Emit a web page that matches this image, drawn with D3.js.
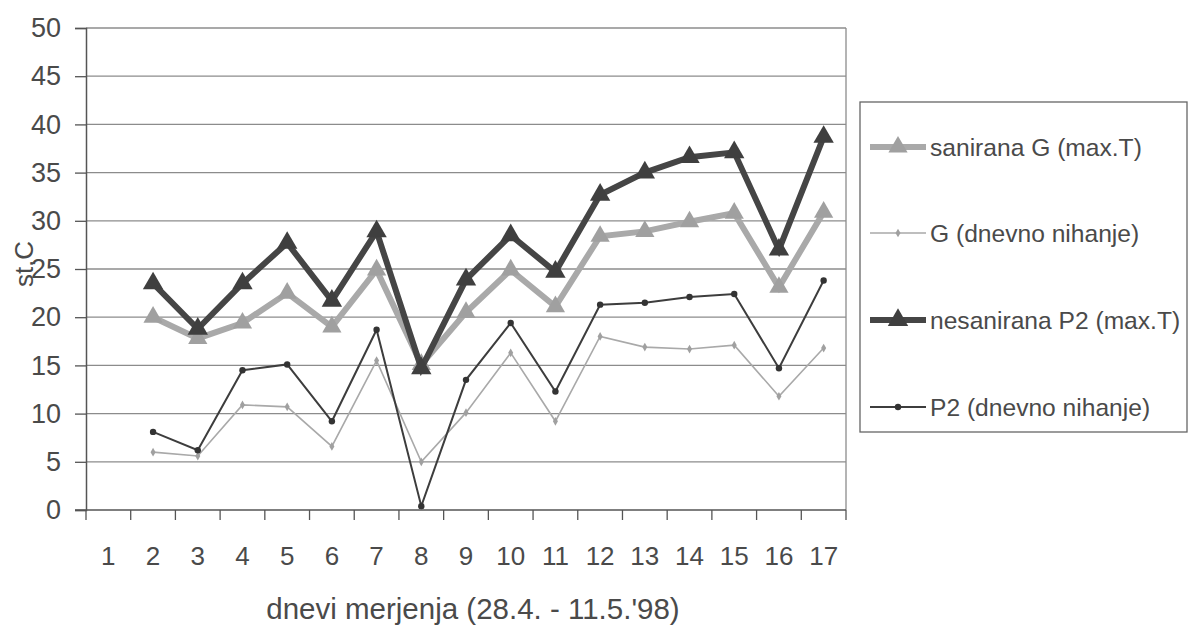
<!DOCTYPE html>
<html>
<head>
<meta charset="utf-8">
<script src="https://cdn.jsdelivr.net/npm/d3@7"></script>
<style>
  html, body { margin: 0; padding: 0; background: #fff; }
  svg { display: block; }
  text { font-family: "Liberation Sans", Arial, sans-serif; fill: #4a4a4a; }
</style>
</head>
<body>
<svg id="chart" width="1190" height="634"></svg>
<script>
// Measurement days (x categories)
const days = ["1","2","3","4","5","6","7","8","9","10","11","12","13","14","15","16","17"];
const yTicks = [0, 5, 10, 15, 20, 25, 30, 35, 40, 45, 50];

// Temperatures (°C); day 1 has no readings
const saniranaMax  = [null, 20.0, 17.8, 19.4, 22.5, 19.0, 24.9, 15.1, 20.5, 24.9, 21.1, 28.4, 28.9, 29.9, 30.8, 23.1, 30.9];
const gDaily       = [null, 6.0, 5.6, 10.9, 10.7, 6.6, 15.5, 5.0, 10.1, 16.3, 9.2, 18.0, 16.9, 16.7, 17.1, 11.8, 16.8];
const nesaniranaMax= [null, 23.5, 18.8, 23.5, 27.7, 21.7, 28.9, 14.7, 23.9, 28.5, 24.7, 32.7, 35.0, 36.6, 37.1, 27.0, 38.7];
const p2Daily      = [null, 8.1, 6.2, 14.5, 15.1, 9.2, 18.7, 0.4, 13.5, 19.4, 12.3, 21.3, 21.5, 22.1, 22.4, 14.7, 23.8];

const seriesNames = ["sanirana G (max.T)", "G (dnevno nihanje)", "nesanirana P2 (max.T)", "P2 (dnevno nihanje)"];

const svg = d3.select("#chart");
const plot = { left: 86, right: 846, top: 28, bottom: 510 };

const x = d3.scaleBand().domain(days).range([plot.left, plot.right]).padding(0);
const y = d3.scaleLinear().domain([0, 50]).range([plot.bottom, plot.top]);
const cx = d => x(d) + x.bandwidth() / 2;

// Horizontal gridlines
svg.append("g").selectAll("line").data(yTicks.filter(t => t > 0)).join("line")
  .attr("x1", plot.left).attr("x2", plot.right)
  .attr("y1", d => y(d)).attr("y2", d => y(d))
  .attr("stroke", "#8c8c8c").attr("stroke-width", 1.3);

// Right border of plot area
svg.append("line").attr("x1", plot.right).attr("x2", plot.right)
  .attr("y1", plot.top).attr("y2", plot.bottom)
  .attr("stroke", "#8c8c8c").attr("stroke-width", 1.3);

// Y axis
const yAxis = svg.append("g").attr("transform", `translate(${plot.left},0)`)
  .call(d3.axisLeft(y).tickValues(yTicks).tickSize(11).tickPadding(14));
yAxis.select(".domain").attr("stroke", "#555").attr("stroke-width", 1.5);
yAxis.selectAll(".tick line").attr("stroke", "#555").attr("stroke-width", 1.3);
yAxis.selectAll(".tick text").attr("font-size", 27).attr("font-family", null).style("fill", "#4a4a4a");

// X axis with ticks on category boundaries
const xAxisG = svg.append("g").attr("transform", `translate(0,${plot.bottom})`);
xAxisG.append("line").attr("x1", plot.left - 11).attr("x2", plot.right)
  .attr("stroke", "#555").attr("stroke-width", 1.5);
const bounds = days.map(d => x(d)).concat([plot.right]);
xAxisG.selectAll("line.tk").data(bounds).join("line").attr("class", "tk")
  .attr("x1", d => d).attr("x2", d => d).attr("y1", 0).attr("y2", 10)
  .attr("stroke", "#555").attr("stroke-width", 1.3);
xAxisG.selectAll("text").data(days).join("text")
  .attr("x", d => cx(d)).attr("y", 55)
  .attr("text-anchor", "middle").attr("font-size", 26).text(d => d);

// Axis titles
svg.append("text").attr("x", 473).attr("y", 619).attr("text-anchor", "middle")
  .attr("font-size", 29.5).text("dnevi merjenja (28.4. - 11.5.'98)");
svg.append("text").attr("transform", "translate(33,264) rotate(-90)")
  .attr("text-anchor", "middle").attr("font-size", 26).text("st.C");

const line = d3.line().defined(d => d.v != null).x(d => cx(d.day)).y(d => y(d.v));
const toPts = arr => arr.map((v, i) => ({ day: days[i], v }));
const tri = d3.symbol().type(d3.symbolTriangle);
const dia = d3.symbol().type(d3.symbolDiamond);

const styles = [
  { data: saniranaMax,   color: "#a9a9a9", width: 6,   marker: "tri", size: 160, mfill: "#a0a0a0" },
  { data: gDaily,        color: "#a9a9a9", width: 1.6, marker: "dia", size: 22,  mfill: "#a0a0a0" },
  { data: nesaniranaMax, color: "#454545", width: 6,   marker: "tri", size: 180, mfill: "#3f3f3f" },
  { data: p2Daily,       color: "#3d3d3d", width: 2,   marker: "dot", size: 3.2, mfill: "#333" }
];

function marker(g, s, px, py) {
  if (s.marker === "tri") {
    g.append("path").attr("d", tri.size(s.size)()).attr("transform", `translate(${px},${py})`).attr("fill", s.mfill);
  } else if (s.marker === "dia") {
    g.append("path").attr("d", dia.size(s.size)()).attr("transform", `translate(${px},${py})`).attr("fill", s.mfill);
  } else {
    g.append("circle").attr("cx", px).attr("cy", py).attr("r", s.size).attr("fill", s.mfill);
  }
}

// Thin series first, thick max-temperature series on top
[1, 3, 0, 2].forEach(i => {
  const s = styles[i];
  const g = svg.append("g");
  const pts = toPts(s.data);
  g.append("path").datum(pts).attr("d", line)
    .attr("fill", "none").attr("stroke", s.color).attr("stroke-width", s.width)
    .attr("stroke-linejoin", "miter");
  pts.filter(d => d.v != null).forEach(d => marker(g, s, cx(d.day), y(d.v)));
});

// Legend
const lg = svg.append("g");
lg.append("rect").attr("x", 860).attr("y", 102).attr("width", 327).attr("height", 330)
  .attr("fill", "#fff").attr("stroke", "#666").attr("stroke-width", 1.3);
const rowY = [147, 233, 320, 407];
styles.forEach((s, i) => {
  const row = lg.append("g");
  row.append("line").attr("x1", 870).attr("x2", 926).attr("y1", rowY[i]).attr("y2", rowY[i])
    .attr("stroke", s.color).attr("stroke-width", s.width);
  marker(row, s, 898, rowY[i]);
  row.append("text").attr("x", 930).attr("y", rowY[i]).attr("dy", "0.35em")
    .attr("font-size", 24.6).text(seriesNames[i]);
});
</script>
</body>
</html>
